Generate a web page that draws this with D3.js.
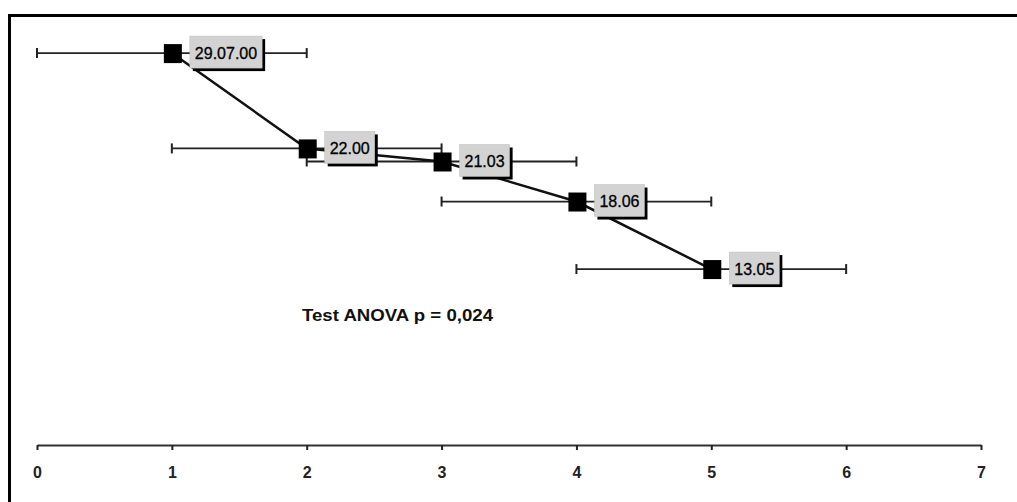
<!DOCTYPE html>
<html>
<head>
<meta charset="utf-8">
<script src="https://cdn.jsdelivr.net/npm/d3@7"></script>
<style>
  html, body { margin: 0; padding: 0; background: #fff; }
  svg { display: block; }
</style>
</head>
<body>
<svg id="chart" width="1017" height="502"></svg>
<script>
const groups = [1, 2, 3, 4, 5];
const values = [29.07, 22.00, 21.03, 18.06, 13.05];
const errLow = [0, 1, 2, 3, 4];
const errHigh = [2, 3, 4, 5, 6];
const labels = ["29.07.00", "22.00", "21.03", "18.06", "13.05"];
const xTicks = [0, 1, 2, 3, 4, 5, 6, 7];
const annotation = "Test ANOVA p = 0,024";

const svg = d3.select("#chart");
const x = d3.scaleLinear().domain([0, 7]).range([37, 981]);
const y = d3.scaleLinear().domain([0, 32]).range([445, 13.6]);

const data = groups.map((g, i) => ({g, v: values[i], lo: errLow[i], hi: errHigh[i], label: labels[i]}));

// frame
svg.append("line").attr("x1", 9.5).attr("x2", 9.5).attr("y1", 14).attr("y2", 502)
  .attr("stroke", "#000").attr("stroke-width", 3);
svg.append("line").attr("x1", 8).attr("x2", 1017).attr("y1", 15.5).attr("y2", 15.5)
  .attr("stroke", "#000").attr("stroke-width", 3);

// axis
const axis = svg.append("g").attr("transform", "translate(0,445)")
  .call(d3.axisBottom(x).tickValues(xTicks).tickFormat(d3.format("d")).tickSize(5).tickSizeOuter(0).tickPadding(17));
axis.select(".domain").attr("stroke", "#333").attr("stroke-width", 2);
axis.selectAll(".tick line").attr("stroke", "#222").attr("stroke-width", 2);
axis.selectAll(".tick text").attr("font-family", "Liberation Sans, Arial, sans-serif")
  .style("font-size", "16px").attr("font-weight", "bold").attr("fill", "#222");

// error bars
const eb = svg.append("g");
data.forEach(d => {
  eb.append("line").attr("x1", x(d.lo)).attr("x2", x(d.hi)).attr("y1", y(d.v)).attr("y2", y(d.v))
    .attr("stroke", "#222").attr("stroke-width", 1.8);
  [d.lo, d.hi].forEach(e => {
    eb.append("line").attr("x1", x(e)).attr("x2", x(e)).attr("y1", y(d.v) - 5).attr("y2", y(d.v) + 5)
      .attr("stroke", "#222").attr("stroke-width", 2);
  });
});

// connecting line
svg.append("path").datum(data)
  .attr("d", d3.line().x(d => x(d.g)).y(d => y(d.v)))
  .attr("fill", "none").attr("stroke", "#111").attr("stroke-width", 2.5);

// labels
const lab = svg.append("g").attr("font-family", "Liberation Sans, Arial, sans-serif");
data.forEach(d => {
  const g = lab.append("g").attr("transform", `translate(${x(d.g) + 18},${y(d.v)})`);
  const t = g.append("text").attr("x", 0).attr("y", 0).attr("dy", "0.36em")
    .attr("font-size", 16).attr("fill", "#000").attr("stroke", "#000").attr("stroke-width", 0.3)
    .text(d.label);
  const w = t.node().getComputedTextLength();
  const bw = w + 10, bh = 32;
  g.insert("rect", "text").attr("x", 3).attr("y", -bh / 2 + 2).attr("width", bw).attr("height", bh).attr("fill", "#000");
  g.insert("rect", "text").attr("x", 0).attr("y", -bh / 2 - 1).attr("width", bw).attr("height", bh)
    .attr("fill", "#d3d3d3").attr("stroke", "#bbb").attr("stroke-width", 0.5);
  t.attr("x", 5);
});

// markers
svg.append("g").selectAll("rect").data(data).join("rect")
  .attr("x", d => x(d.g) - 8).attr("y", d => y(d.v) - 9)
  .attr("width", 18).attr("height", 19).attr("fill", "#000");

// annotation
svg.append("text").attr("x", 302).attr("y", 321)
  .attr("font-family", "Liberation Sans, Arial, sans-serif").style("font-size", "17px").attr("font-weight", "bold")
  .attr("textLength", 191).attr("lengthAdjust", "spacingAndGlyphs")
  .attr("fill", "#111").text(annotation);
</script>
</body>
</html>
